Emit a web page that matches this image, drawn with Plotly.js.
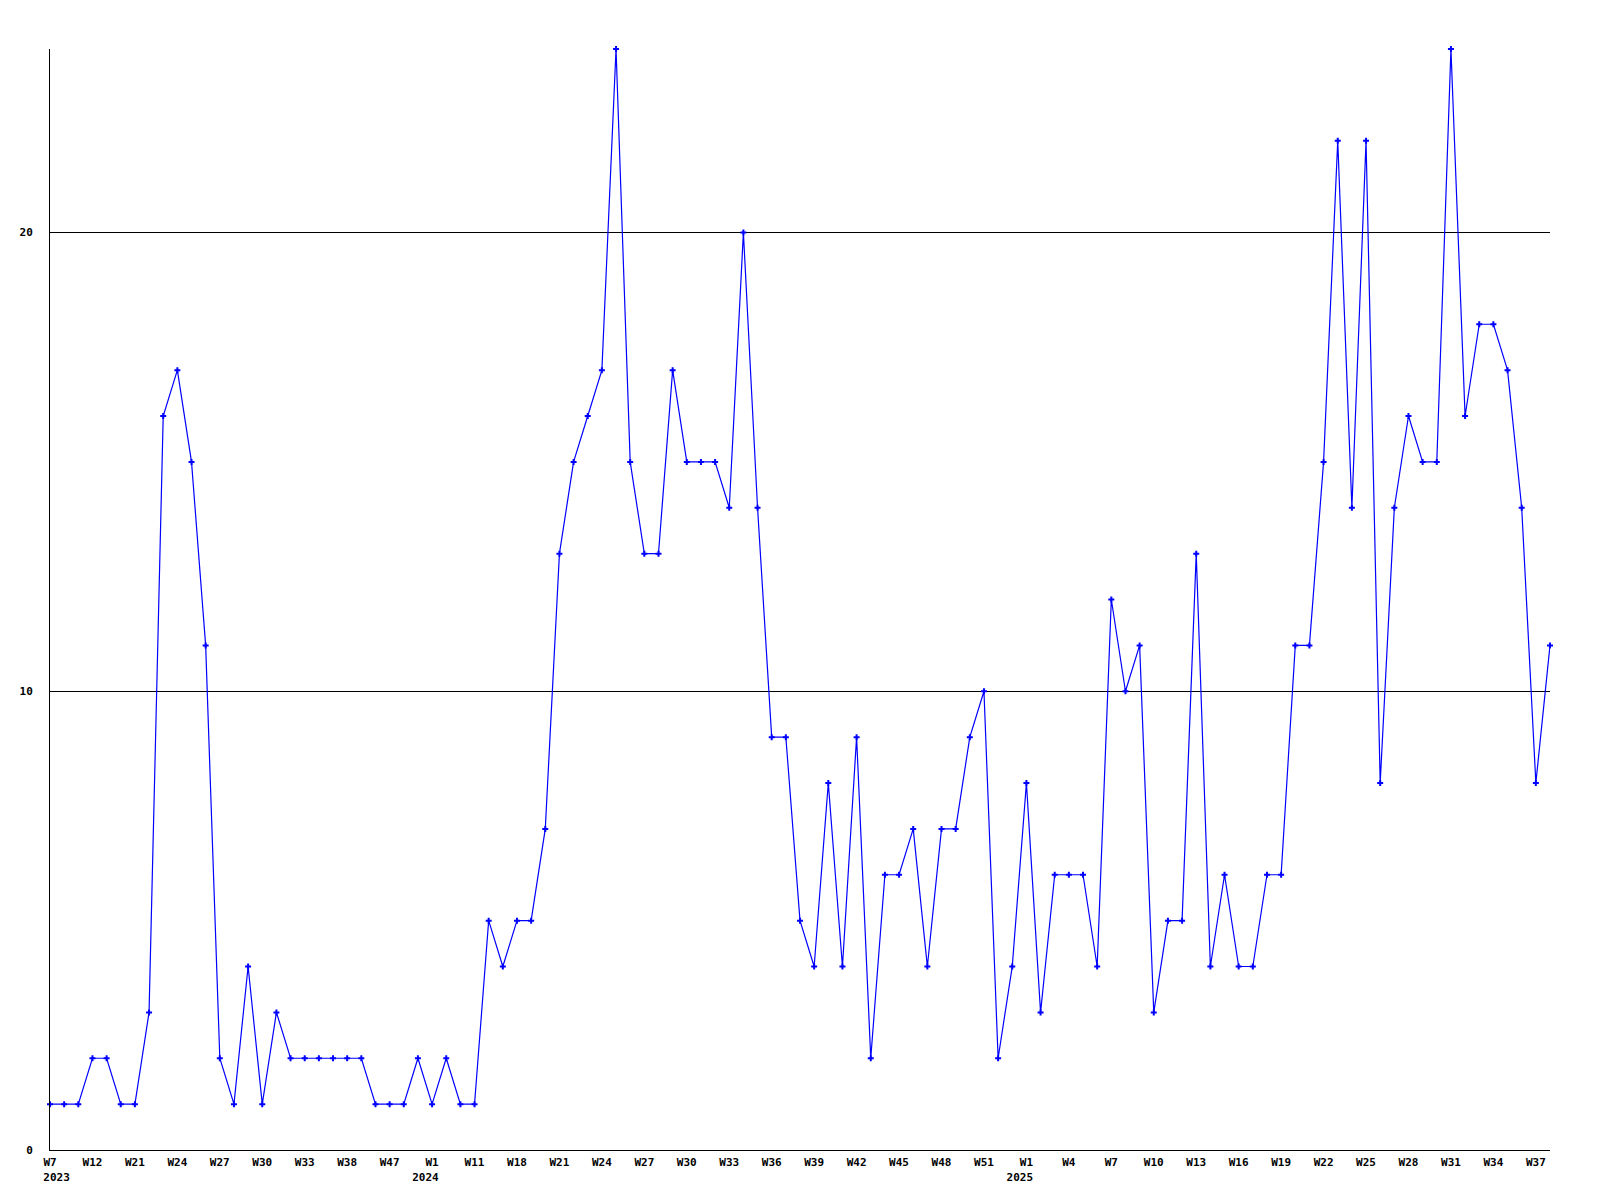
<!DOCTYPE html>
<html>
<head>
<meta charset="utf-8">
<script src="https://cdn.plot.ly/plotly-3.0.1.min.js"></script>
<style>
  html, body { margin: 0; padding: 0; background: #fff; }
  #chart { width: 1600px; height: 1200px; }
</style>
</head>
<body>
<div id="chart"></div>
<script>
// Week categories (only every third one is labelled on the axis)
const weeks = [
  "2023-W07","2023-W09","2023-W10","2023-W12","2023-W15","2023-W18","2023-W21","2023-W22","2023-W23","2023-W24",
  "2023-W25","2023-W26","2023-W27","2023-W28","2023-W29","2023-W30","2023-W31","2023-W32","2023-W33","2023-W35",
  "2023-W36","2023-W38","2023-W41","2023-W44","2023-W47","2023-W49","2023-W51",
  "2024-W01","2024-W04","2024-W08","2024-W11","2024-W14","2024-W16","2024-W18","2024-W19","2024-W20","2024-W21",
  "2024-W22","2024-W23","2024-W24","2024-W25","2024-W26","2024-W27","2024-W28","2024-W29","2024-W30","2024-W31",
  "2024-W32","2024-W33","2024-W34","2024-W35","2024-W36","2024-W37","2024-W38","2024-W39","2024-W40","2024-W41",
  "2024-W42","2024-W43","2024-W44","2024-W45","2024-W46","2024-W47","2024-W48","2024-W49","2024-W50","2024-W51",
  "2024-W52","2024-W53",
  "2025-W01","2025-W02","2025-W03","2025-W04","2025-W05","2025-W06","2025-W07","2025-W08","2025-W09","2025-W10",
  "2025-W11","2025-W12","2025-W13","2025-W14","2025-W15","2025-W16","2025-W17","2025-W18","2025-W19","2025-W20",
  "2025-W21","2025-W22","2025-W23","2025-W24","2025-W25","2025-W26","2025-W27","2025-W28","2025-W29","2025-W30",
  "2025-W31","2025-W32","2025-W33","2025-W34","2025-W35","2025-W36","2025-W37","2025-W38"
];

const counts = [
  1,1,1,2,2,1,1,3,16,17,
  15,11,2,1,4,1,3,2,2,2,
  2,2,2,1,1,1,2,1,2,1,
  1,5,4,5,5,7,13,15,16,17,
  24,15,13,13,17,15,15,15,14,20,
  14,9,9,5,4,8,4,9,2,6,
  6,7,4,7,7,9,10,2,4,8,
  3,6,6,6,4,12,10,11,3,5,
  5,13,4,6,4,4,6,6,11,11,
  15,22,14,22,8,14,16,15,15,24,
  16,18,18,17,14,8,11
];

// Labelled weeks and their tick text
const tickWeeks = [
  "2023-W07","2023-W12","2023-W21","2023-W24","2023-W27","2023-W30","2023-W33","2023-W38","2023-W47",
  "2024-W01","2024-W11","2024-W18","2024-W21","2024-W24","2024-W27","2024-W30","2024-W33","2024-W36",
  "2024-W39","2024-W42","2024-W45","2024-W48","2024-W51",
  "2025-W01","2025-W04","2025-W07","2025-W10","2025-W13","2025-W16","2025-W19","2025-W22","2025-W25",
  "2025-W28","2025-W31","2025-W34","2025-W37"
];
const tickLabels = [
  "W7<br>\u00a0\u00a02023","W12","W21","W24","W27","W30","W33","W38","W47",
  "W1<br>2024\u00a0\u00a0","W11","W18","W21","W24","W27","W30","W33","W36",
  "W39","W42","W45","W48","W51",
  "W1<br>2025\u00a0\u00a0","W4","W7","W10","W13","W16","W19","W22","W25",
  "W28","W31","W34","W37"
];

const yTicks = [0, 10, 20];

const font = { family: "DejaVu Sans Mono, Liberation Mono, monospace", size: 11, color: "#000", weight: "bold" };

Plotly.newPlot("chart", [{
  x: weeks,
  y: counts,
  type: "scatter",
  mode: "lines+markers",
  line: { color: "#0000ff", width: 1.2 },
  marker: { symbol: "cross", size: 5, color: "#0000ff", line: { width: 0 } },
  cliponaxis: false,
  hoverinfo: "x+y"
}], {
  width: 1600,
  height: 1200,
  margin: { l: 50, r: 50, t: 49, b: 50 },
  paper_bgcolor: "#fff",
  plot_bgcolor: "#fff",
  showlegend: false,
  font: font,
  xaxis: {
    type: "category",
    categoryorder: "array",
    categoryarray: weeks,
    range: [0, weeks.length - 1],
    tickmode: "array",
    tickvals: tickWeeks,
    ticktext: tickLabels,
    ticks: "",
    showgrid: false,
    zeroline: false,
    showline: true,
    linecolor: "#000",
    linewidth: 1,
    tickangle: 0,
    tickfont: font,
    ticklabelstandoff: 2
  },
  yaxis: {
    range: [0, 24],
    tickmode: "array",
    tickvals: yTicks,
    ticktext: yTicks.map(String),
    ticks: "",
    showgrid: true,
    gridcolor: "#000",
    gridwidth: 1,
    zeroline: false,
    showline: true,
    linecolor: "#000",
    linewidth: 1,
    tickfont: font,
    ticklabelstandoff: 14
  }
}, { staticPlot: true, displayModeBar: false });
</script>
</body>
</html>
